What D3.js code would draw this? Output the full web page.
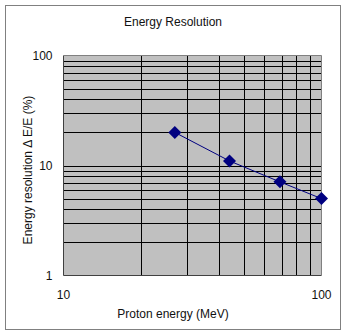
<html>
<head>
  <title>Energy Resolution</title>
  <script src="https://cdnjs.cloudflare.com/ajax/libs/d3/7.8.5/d3.min.js"></script>
  <style>
    body { margin: 0; background: #fff; }
    text { font-family: "Liberation Sans", Arial, sans-serif; fill: #111; }
  </style>
</head>
<body>
<script type="text/javascript">
  // data
  var energy = [27, 44, 69, 100];          // MeV
  var resolution = [20, 11, 7.1, 5];       // %
  var xTicks = [10, 100];
  var yTicks = [1, 10, 100];

  var width = 346, height = 336;
  var margin = {left: 63.5, right: 24.5, top: 55.5, bottom: 60.5};

  var svg = d3.select("body").append("svg")
    .attr("width", width)
    .attr("height", height);

  // outer frame
  svg.append("rect")
    .attr("x", 5.5).attr("y", 5.5)
    .attr("width", 335).attr("height", 324)
    .attr("fill", "#fff")
    .attr("stroke", "#808080");

  var x = d3.scaleLog().domain([10, 100]).range([margin.left, width - margin.right]);
  var y = d3.scaleLog().domain([1, 100]).range([height - margin.bottom, margin.top]);

  // plot background
  svg.append("rect")
    .attr("x", x(10)).attr("y", y(100))
    .attr("width", x(100) - x(10)).attr("height", y(1) - y(100))
    .attr("fill", "#c0c0c0");

  // gridlines, every minor step of the log scale
  var xGrid = x.ticks().filter(function (d) { return d > 10 && d < 100; });
  var yGrid = y.ticks().filter(function (d) { return d > 1 && d < 100; });

  svg.append("g").selectAll("line")
    .data(yGrid)
    .enter().append("line")
    .attr("x1", x(10)).attr("x2", x(100))
    .attr("y1", function (d) { return Math.round(y(d)) + 0.5; })
    .attr("y2", function (d) { return Math.round(y(d)) + 0.5; })
    .attr("stroke", "#000");

  svg.append("g").selectAll("line")
    .data(xGrid)
    .enter().append("line")
    .attr("y1", y(100)).attr("y2", y(1))
    .attr("x1", function (d) { return Math.round(x(d)) + 0.5; })
    .attr("x2", function (d) { return Math.round(x(d)) + 0.5; })
    .attr("stroke", "#000");

  // plot border: dark left and bottom, gray top and right
  svg.append("line").attr("x1", x(10)).attr("x2", x(10)).attr("y1", y(100)).attr("y2", y(1)).attr("stroke", "#404040");
  svg.append("line").attr("x1", x(10)).attr("x2", x(100)).attr("y1", y(1)).attr("y2", y(1)).attr("stroke", "#404040");
  svg.append("line").attr("x1", x(10)).attr("x2", x(100)).attr("y1", y(100)).attr("y2", y(100)).attr("stroke", "#808080");
  svg.append("line").attr("x1", x(100)).attr("x2", x(100)).attr("y1", y(100)).attr("y2", y(1)).attr("stroke", "#808080");

  // tick labels
  svg.append("g").selectAll("text")
    .data(yTicks)
    .enter().append("text")
    .attr("x", x(10) - 11)
    .attr("y", function (d) { return y(d) + 4; })
    .attr("text-anchor", "end")
    .style("font-size", "12px")
    .text(function (d) { return d; });

  svg.append("g").selectAll("text")
    .data(xTicks)
    .enter().append("text")
    .attr("x", function (d) { return x(d); })
    .attr("y", y(1) + 23)
    .attr("text-anchor", "middle")
    .style("font-size", "12px")
    .text(function (d) { return d; });

  // titles
  svg.append("text")
    .attr("x", 173).attr("y", 26)
    .attr("text-anchor", "middle")
    .style("font-size", "12px")
    .text("Energy Resolution");

  svg.append("text")
    .attr("x", 173).attr("y", 318)
    .attr("text-anchor", "middle")
    .style("font-size", "12px")
    .text("Proton energy (MeV)");

  svg.append("text")
    .attr("transform", "translate(32,170) rotate(-90)")
    .attr("text-anchor", "middle")
    .style("font-size", "12px")
    .text("Energy resolution \u0394 E/E (%)");

  // series
  var pts = energy.map(function (e, i) { return [e, resolution[i]]; });

  svg.append("path")
    .datum(pts)
    .attr("fill", "none")
    .attr("stroke", "#000080")
    .attr("stroke-width", 1)
    .attr("d", d3.line()
      .x(function (d) { return x(d[0]); })
      .y(function (d) { return y(d[1]); }));

  svg.append("g").selectAll("path")
    .data(pts)
    .enter().append("path")
    .attr("transform", function (d) { return "translate(" + x(d[0]) + "," + y(d[1]) + ")"; })
    .attr("d", "M0,-6.5L6.5,0L0,6.5L-6.5,0Z")
    .attr("fill", "#000080");
</script>
</body>
</html>
